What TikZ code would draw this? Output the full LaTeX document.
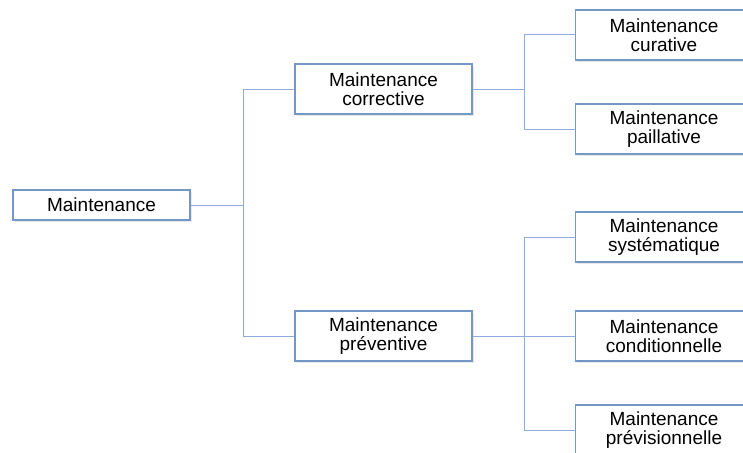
\documentclass[tikz,border=0pt]{standalone}
\usepackage{fontspec}
\setmainfont{Liberation Sans}
\usetikzlibrary{shadows}
\definecolor{boxblue}{HTML}{7397C6}
\definecolor{lineblue}{HTML}{8CAED8}
\begin{document}
\begin{tikzpicture}[x=1pt,y=-1pt,
  box/.style={draw=boxblue, line width=1.2pt, fill=white,
    minimum width=177pt, minimum height=50pt, inner sep=0pt,
    align=center, font=\fontsize{19}{19}\selectfont,
    drop shadow={opacity=0.18, shadow xshift=1.5pt, shadow yshift=-1.5pt}},
  conn/.style={draw=lineblue, line width=1pt}]
\useasboundingbox (0,0) rectangle (743,452);
\clip (0,0) rectangle (743,452);
\fill[white] (0,0) rectangle (743,452);
\node[box, minimum height=30pt] (m) at (101.5,205) {Maintenance};
\node[box] (corr) at (383.5,89) {Maintenance\\corrective};
\node[box] (prev) at (383.5,336) {Maintenance\\préventive};
\node[box] (cur) at (664,35) {Maintenance\\curative};
\node[box] (pal) at (664,129) {Maintenance\\paillative};
\node[box] (sys) at (664,237) {Maintenance\\systématique};
\node[box] (cond) at (664,336) {Maintenance\\conditionnelle};
\node[box] (previs) at (664,430) {Maintenance\\prévisionnelle};
\coordinate (j1) at (243,205);
\coordinate (j2) at (524,89);
\coordinate (j3) at (524,336);
\path[conn] (m.east) -- (j1);
\path[conn] (j1) |- (corr.west);
\path[conn] (j1) |- (prev.west);
\path[conn] (corr.east) -- (j2);
\path[conn] (j2) |- (cur.west);
\path[conn] (j2) |- (pal.west);
\path[conn] (prev.east) -- (cond.west);
\path[conn] (j3) |- (sys.west);
\path[conn] (j3) |- (previs.west);
\end{tikzpicture}
\end{document}
